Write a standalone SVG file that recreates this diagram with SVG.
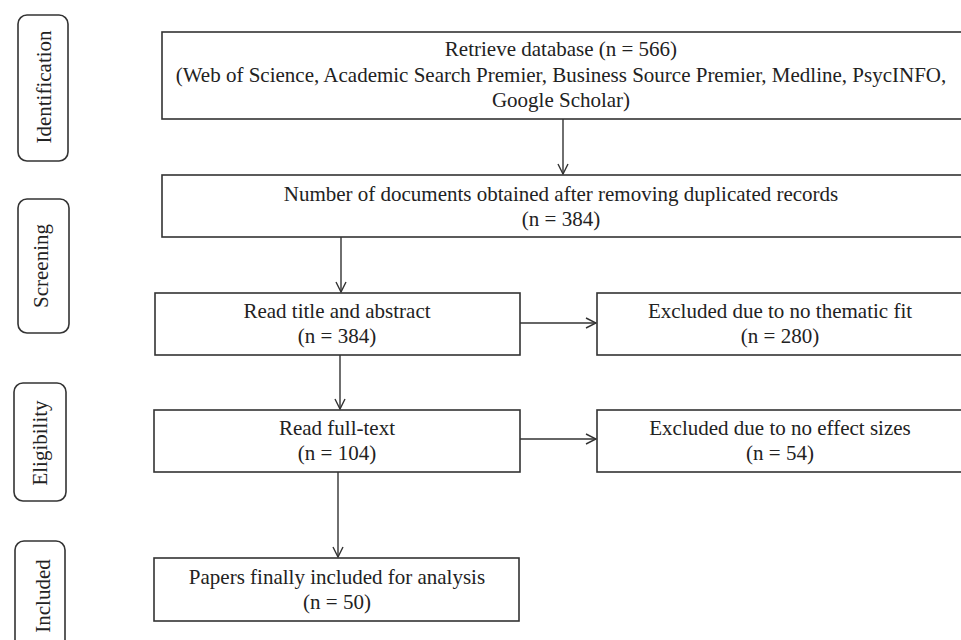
<svg xmlns="http://www.w3.org/2000/svg" width="961" height="640" viewBox="0 0 961 640">
<defs>
<style>
.box{fill:#fff;stroke:#333;stroke-width:1.6}
.side{fill:#fff;stroke:#333;stroke-width:1.6}
text{font-family:"Liberation Serif","Times New Roman",serif;font-size:21px;fill:#222;text-anchor:middle}
.c{stroke:#333;stroke-width:1.4;fill:none}
</style>
<marker id="ah" viewBox="0 0 12 12" refX="11" refY="6" markerWidth="12" markerHeight="12" markerUnits="userSpaceOnUse" orient="auto">
<path d="M1,1 L11,6 L1,11" fill="none" stroke="#333" stroke-width="1.4"/>
</marker>
</defs>
<rect width="961" height="640" fill="#fff"/>
<g id="phase-identification"><rect class="side" x="18" y="15" width="50" height="146" rx="9"/><text transform="translate(51,87) rotate(-90)">Identification</text></g>
<g id="phase-screening"><rect class="side" x="18" y="199" width="51" height="134" rx="9"/><text transform="translate(48,266) rotate(-90)">Screening</text></g>
<g id="phase-eligibility"><rect class="side" x="14" y="383" width="52" height="118" rx="9"/><text transform="translate(47,443) rotate(-90)">Eligibility</text></g>
<g id="phase-included"><rect class="side" x="15" y="541" width="50" height="120" rx="9"/><text transform="translate(50,596) rotate(-90)">Included</text></g>
<g id="retrieve"><rect class="box" x="162" y="32" width="810" height="87"/><text x="561" y="56">Retrieve database (n = 566)</text><text x="561" y="82">(Web of Science, Academic Search Premier, Business Source Premier, Medline, PsycINFO,</text><text x="561" y="107">Google Scholar)</text></g>
<g id="dedup"><rect class="box" x="162" y="175" width="810" height="62"/><text x="561" y="201">Number of documents obtained after removing duplicated records</text><text x="561" y="226">(n = 384)</text></g>
<g id="title-abstract"><rect class="box" x="155" y="293" width="365" height="62"/><text x="337" y="318">Read title and abstract</text><text x="337" y="343">(n = 384)</text></g>
<g id="excl-thematic"><rect class="box" x="597" y="293" width="380" height="62"/><text x="780" y="318">Excluded due to no thematic fit</text><text x="780" y="343">(n = 280)</text></g>
<g id="fulltext"><rect class="box" x="154" y="410" width="366" height="62"/><text x="337" y="435">Read full-text</text><text x="337" y="460">(n = 104)</text></g>
<g id="excl-effect"><rect class="box" x="597" y="410" width="380" height="62"/><text x="780" y="435">Excluded due to no effect sizes</text><text x="780" y="460">(n = 54)</text></g>
<g id="included"><rect class="box" x="154" y="558" width="365" height="63"/><text x="337" y="584">Papers finally included for analysis</text><text x="337" y="609">(n = 50)</text></g>
<g id="connectors">
<line class="c" x1="563" y1="119" x2="563" y2="174" marker-end="url(#ah)"/>
<line class="c" x1="341" y1="237" x2="341" y2="292" marker-end="url(#ah)"/>
<line class="c" x1="340" y1="355" x2="340" y2="409" marker-end="url(#ah)"/>
<line class="c" x1="338" y1="472" x2="338" y2="557" marker-end="url(#ah)"/>
<line class="c" x1="520" y1="323" x2="596" y2="323" marker-end="url(#ah)"/>
<line class="c" x1="520" y1="439" x2="596" y2="439" marker-end="url(#ah)"/>
</g>
</svg>
